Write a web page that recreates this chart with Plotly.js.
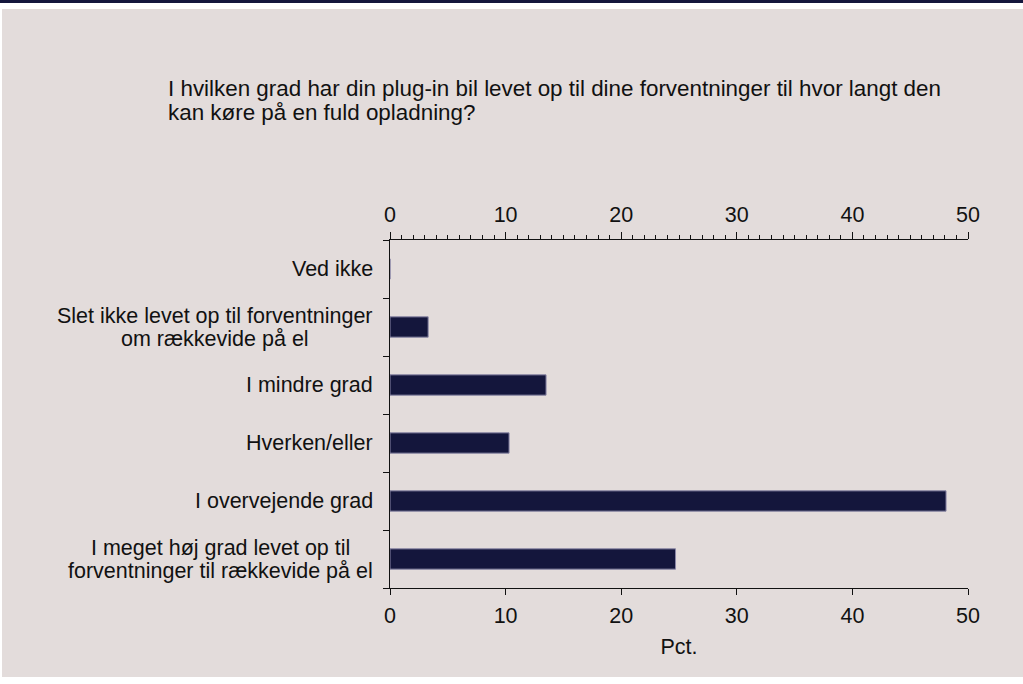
<!DOCTYPE html>
<html>
<head>
<meta charset="utf-8">
<script src="https://cdn.plot.ly/plotly-3.0.1.min.js"></script>
<style>
  html, body { margin: 0; padding: 0; background: #ffffff; }
  #wrap { position: relative; width: 1023px; height: 684px; overflow: hidden; background: #ffffff; }
  #topbar { position: absolute; left: 0; top: 0; width: 1023px; height: 3px; background: #14163c; }
  #chart { position: absolute; left: 2px; top: 9px; width: 1021px; height: 668px; }
</style>
</head>
<body>
<div id="wrap">
  <div id="topbar"></div>
  <div id="chart"></div>
</div>
<script>
const categories = [
  "Ved ikke",
  "Slet ikke levet op til forventninger\nom rækkevide på el",
  "I mindre grad",
  "Hverken/eller",
  "I overvejende grad",
  "I meget høj grad levet op til\nforventninger til rækkevide på el"
];
const values = [0, 3.3, 13.5, 10.3, 48.1, 24.7];
const tickValues = [0, 10, 20, 30, 40, 50];
const titleLines = [
  "I hvilken grad har din plug-in bil levet op til dine forventninger til hvor langt den",
  "kan køre på en fuld opladning?"
];
const xTitle = "Pct.";

const font = "Liberation Sans, Arial, sans-serif";
const fs = 21.5;
const W = 1021, H = 668;
const L = 388, R = 55, T = 231, B = 89;
const pw = W - L - R, ph = H - T - B;

// measure text width to center multi-line labels
const cv = document.createElement("canvas").getContext("2d");
cv.font = fs + "px 'Liberation Sans', Arial, sans-serif";
const tw = s => cv.measureText(s).width;

const rightEdge = 371 - L; // px relative to plot left (div coords)
const lineGap = 23;
const labelAnns = [];
categories.forEach(c => {
  const lines = c.split("\n");
  const maxW = Math.max(...lines.map(tw));
  const cx = rightEdge - maxW / 2;
  lines.forEach((ln, i) => {
    labelAnns.push({
      text: ln, xref: "paper", yref: "y", x: cx / pw, y: c,
      xanchor: "center", yanchor: "middle", showarrow: false,
      yshift: -(i - (lines.length - 1) / 2) * lineGap,
      font: { family: font, size: fs, color: "#111111" }
    });
  });
});

const titleAnns = titleLines.map((ln, i) => ({
  text: ln, xref: "paper", yref: "paper",
  x: (164 - L) / pw, y: 1 + (T - (79.5 + i * 24)) / ph,
  xanchor: "left", yanchor: "middle", align: "left", showarrow: false,
  font: { family: font, size: 22.4, color: "#111111" }
}));

const data = [
  {
    type: "bar", orientation: "h", x: values, y: categories,
    width: 0.35,
    marker: { color: "#14163c", line: { color: "#8a86a6", width: 1 } },
    hoverinfo: "x+y"
  },
  {
    type: "scatter", mode: "none", x: [0, 50], y: [categories[0], categories[5]],
    xaxis: "x2", yaxis: "y", hoverinfo: "skip", showlegend: false
  }
];

const layout = {
  width: W, height: H,
  margin: { l: L, r: R, t: T, b: B, pad: 0 },
  paper_bgcolor: "#e3dcdb", plot_bgcolor: "rgba(0,0,0,0)",
  showlegend: false,
  font: { family: font, size: fs, color: "#111111" },
  xaxis: {
    range: [0, 50], tickvals: tickValues, ticktext: tickValues.map(String),
    showgrid: false, zeroline: false, showline: true, linecolor: "#111111", linewidth: 1,
    ticks: "outside", ticklen: 6, tickcolor: "#111111", tickwidth: 1,
    ticklabelstandoff: 2,
    tickfont: { family: font, size: fs, color: "#111111" },
    title: { text: xTitle, font: { family: font, size: fs, color: "#111111" }, standoff: 12 },
    fixedrange: true
  },
  xaxis2: {
    overlaying: "x", side: "top", anchor: "y",
    range: [0, 50], tickvals: tickValues, ticktext: tickValues.map(String),
    showgrid: false, zeroline: false, showline: true, linecolor: "#111111", linewidth: 1,
    ticks: "outside", ticklen: 7, tickcolor: "#111111", tickwidth: 1,
    ticklabelstandoff: 1,
    tickfont: { family: font, size: fs, color: "#111111" },
    minor: { dtick: 1, tick0: 0, ticks: "outside", ticklen: 4, tickcolor: "#111111", tickwidth: 1, showgrid: false },
    fixedrange: true
  },
  yaxis: {
    type: "category", categoryorder: "array", categoryarray: categories.slice().reverse(),
    range: [-0.5, 5.5],
    showgrid: false, zeroline: false, showline: true, linecolor: "#111111", linewidth: 1,
    ticks: "outside", tickson: "boundaries", ticklen: 6, tickcolor: "#111111",
    showticklabels: false, fixedrange: true
  },
  annotations: titleAnns.concat(labelAnns)
};

Plotly.newPlot("chart", data, layout, { displayModeBar: false, staticPlot: true });
</script>
</body>
</html>
